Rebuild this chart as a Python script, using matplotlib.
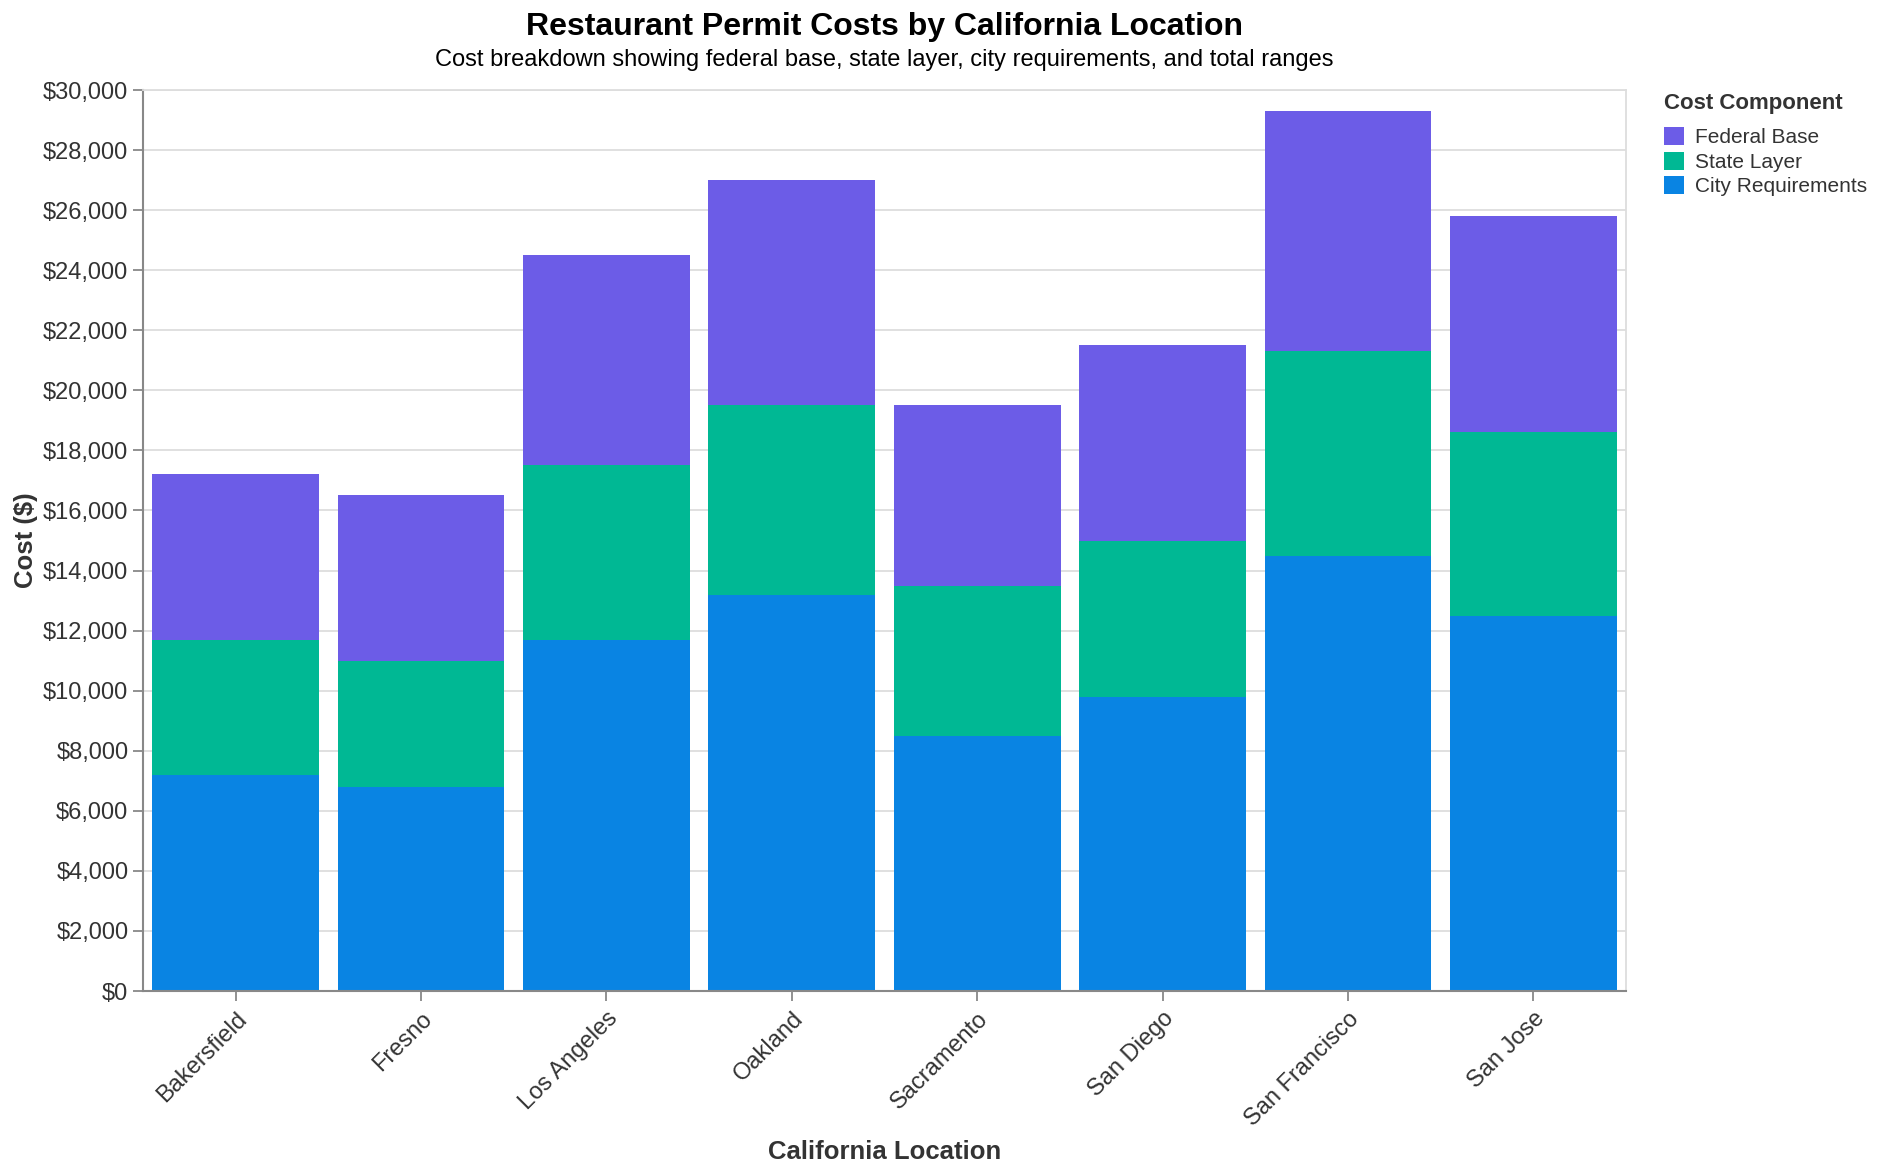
import matplotlib
matplotlib.use("Agg")
import matplotlib.pyplot as plt
from matplotlib.patches import Patch
from matplotlib.ticker import FuncFormatter, MultipleLocator
import numpy as np

plt.rcParams['font.family'] = ['Liberation Sans', 'DejaVu Sans']

# data
locations = ['Bakersfield', 'Fresno', 'Los Angeles', 'Oakland', 'Sacramento',
             'San Diego', 'San Francisco', 'San Jose']
city_req = [7200, 6800, 11700, 13200, 8500, 9800, 14500, 12500]
state_layer = [4500, 4200, 5800, 6300, 5000, 5200, 6800, 6100]
federal_base = [5500, 5500, 7000, 7500, 6000, 6500, 8000, 7200]

components = ['Federal Base', 'State Layer', 'City Requirements']
colors = {'Federal Base': '#6c5ce7', 'State Layer': '#00b894', 'City Requirements': '#0984e3'}

fig = plt.figure(figsize=(18.86, 11.74), dpi=100)
ax = fig.add_axes([143/1886, 1 - 991/1174, (1626-143)/1886, (991-90)/1174])

x = np.arange(len(locations))
city = np.array(city_req)
state = np.array(state_layer)
fed = np.array(federal_base)
ax.bar(x, city, width=0.9, color=colors['City Requirements'], zorder=2)
ax.bar(x, state, width=0.9, bottom=city, color=colors['State Layer'], zorder=2)
ax.bar(x, fed, width=0.9, bottom=city + state, color=colors['Federal Base'], zorder=2)

ax.set_xlim(-0.5, len(locations) - 0.5)
ax.set_ylim(0, 30000)
ax.yaxis.set_major_locator(MultipleLocator(2000))
ax.yaxis.set_major_formatter(FuncFormatter(lambda v, p: '${:,.0f}'.format(v)))
ax.grid(axis='y', color='#dddddd', linewidth=1.3, zorder=0)

ax.set_xticks(x)
ax.set_xticklabels(locations, rotation=45, ha='right', rotation_mode='anchor')
ax.tick_params(axis='x', length=7, width=1.3, color='#888888', labelsize=17,
               labelcolor='#333333', pad=5)
ax.tick_params(axis='y', length=7, width=1.3, color='#888888', labelsize=17,
               labelcolor='#333333', pad=3.5)

for s in ['top', 'right']:
    ax.spines[s].set_color('#dddddd')
    ax.spines[s].set_linewidth(1.3)
for s in ['left', 'bottom']:
    ax.spines[s].set_color('#888888')
    ax.spines[s].set_linewidth(1.5)

ax.set_xlabel('California Location', fontsize=18.5, fontweight='bold', color='#333333')
ax.xaxis.set_label_coords(0.5, -0.165)
ax.set_ylabel('Cost ($)', fontsize=18.5, fontweight='bold', color='#333333')
ax.yaxis.set_label_coords(-0.071, 0.5)

fig.text(884/1886, 1 - 27/1174, 'Restaurant Permit Costs by California Location',
         ha='center', va='center', fontsize=23, fontweight='bold', color='black')
fig.text(884/1886, 1 - 60/1174,
         'Cost breakdown showing federal base, state layer, city requirements, and total ranges',
         ha='center', va='center', fontsize=17, color='black')

handles = [Patch(facecolor=colors[c], edgecolor='none', label=c) for c in components]
leg = fig.legend(handles=handles, loc='upper left', bbox_to_anchor=(1664/1886, 1 - 93/1174),
                 title='Cost Component', frameon=False, fontsize=15,
                 title_fontproperties={'weight': 'bold', 'size': 16},
                 handlelength=0.96, handleheight=0.96, handletextpad=0.53,
                 labelspacing=0.2, alignment='left', borderaxespad=0, borderpad=0)
leg._legend_box.sep = 9.5  # wider gap under the legend title
for t in leg.get_texts():
    t.set_color('#333333')
leg.get_title().set_color('#333333')

fig.savefig('out.png', dpi=100)
